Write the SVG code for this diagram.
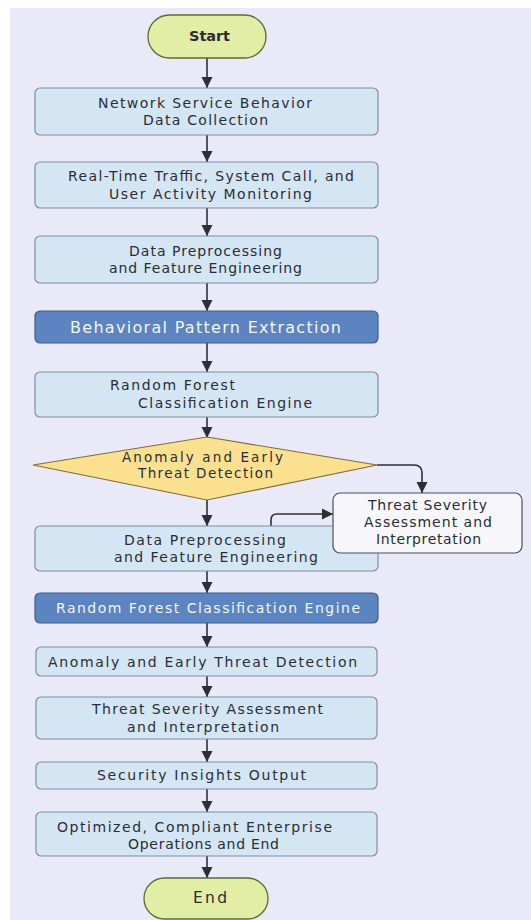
<svg xmlns="http://www.w3.org/2000/svg" width="531" height="920" viewBox="0 0 531 920">
<style>
.t{font-family:"DejaVu Sans","Open Sans","Liberation Sans",sans-serif;font-size:14px;fill:#2a2d36;text-anchor:middle}
.s{text-anchor:start}
.w{fill:#f2f5fb}
.b{font-weight:bold;font-size:14.5px}
.lb{fill:#d4e5f3;stroke:#7d8ea8;stroke-width:1.2}
.db{fill:#5c84c0;stroke:#3d5d92;stroke-width:1.2}
.term{fill:#e2eea5;stroke:#5e6b33;stroke-width:1.3}
.dia{fill:#fbe090;stroke:#7f6f3a;stroke-width:1.2}
.side{fill:#f7f7fb;stroke:#4a4f5a;stroke-width:1.2}
.c{fill:none;stroke:#2d2e36;stroke-width:1.6}
</style>
<defs>
<marker id="ah" markerUnits="userSpaceOnUse" markerWidth="12" markerHeight="12" viewBox="0 0 12 12" refX="11" refY="6" orient="auto">
<path d="M0,0.5 L11,6 L0,11.5 Z" fill="#2d2e36"/>
</marker>
</defs>
<rect x="0" y="0" width="531" height="920" fill="#ffffff"/>
<rect x="10" y="8" width="521" height="912" fill="#e9e9f7"/>

<g id="connectors">
<line class="c" x1="207" y1="58" x2="207" y2="88" marker-end="url(#ah)"/>
<line class="c" x1="207" y1="135" x2="207" y2="162" marker-end="url(#ah)"/>
<line class="c" x1="207" y1="208" x2="207" y2="236" marker-end="url(#ah)"/>
<line class="c" x1="207" y1="283" x2="207" y2="311" marker-end="url(#ah)"/>
<line class="c" x1="207" y1="343" x2="207" y2="372" marker-end="url(#ah)"/>
<line class="c" x1="207" y1="417" x2="207" y2="438" marker-end="url(#ah)"/>
<line class="c" x1="207" y1="500" x2="207" y2="526" marker-end="url(#ah)"/>
<path class="c" d="M377,465 H414 Q422,465 422,473 V493" marker-end="url(#ah)"/>
<path class="c" d="M271,526 V520 Q271,514 277,514 H333" marker-end="url(#ah)"/>
<line class="c" x1="207" y1="571" x2="207" y2="593" marker-end="url(#ah)"/>
<line class="c" x1="207" y1="623" x2="207" y2="647" marker-end="url(#ah)"/>
<line class="c" x1="207" y1="676" x2="207" y2="697" marker-end="url(#ah)"/>
<line class="c" x1="207" y1="739" x2="207" y2="762" marker-end="url(#ah)"/>
<line class="c" x1="207" y1="789" x2="207" y2="812" marker-end="url(#ah)"/>
<line class="c" x1="207" y1="856" x2="207" y2="878" marker-end="url(#ah)"/>
</g>

<g id="start">
<rect class="term" x="148" y="15" width="118" height="43" rx="21.5"/>
<text class="t b" x="209.5" y="41" textLength="41" lengthAdjust="spacing">Start</text>
</g>

<g id="n1">
<rect class="lb" x="35" y="88" width="343" height="47" rx="5"/>
<text class="t" x="205" y="107.5" textLength="214" lengthAdjust="spacing">Network Service Behavior</text>
<text class="t" x="205.5" y="124.5" textLength="125" lengthAdjust="spacing">Data Collection</text>
</g>

<g id="n2">
<rect class="lb" x="35" y="162" width="343" height="46" rx="5"/>
<text class="t" x="211" y="180.5" textLength="286" lengthAdjust="spacing">Real-Time Traffic, System Call, and</text>
<text class="t" x="210.5" y="198.5" textLength="203" lengthAdjust="spacing">User Activity Monitoring</text>
</g>

<g id="n3">
<rect class="lb" x="35" y="236" width="343" height="47" rx="5"/>
<text class="t" x="205.5" y="255.5" textLength="153" lengthAdjust="spacing">Data Preprocessing</text>
<text class="t" x="205.5" y="272.5" textLength="193" lengthAdjust="spacing">and Feature Engineering</text>
</g>

<g id="n4">
<rect class="db" x="35" y="311" width="343" height="32" rx="5"/>
<text class="t w" x="205.5" y="332.5" style="font-size:16px" textLength="271" lengthAdjust="spacing">Behavioral Pattern Extraction</text>
</g>

<g id="n5">
<rect class="lb" x="35" y="372" width="343" height="45" rx="5"/>
<text class="t s" x="110" y="389.5" textLength="125" lengthAdjust="spacing">Random Forest</text>
<text class="t s" x="138" y="407.5" textLength="174" lengthAdjust="spacing">Classification Engine</text>
</g>

<g id="decision">
<polygon class="dia" points="207,437 377,465 207,500 33,465"/>
<text class="t" x="202.5" y="461.5" style="font-size:13.5px" textLength="161" lengthAdjust="spacing">Anomaly and Early</text>
<text class="t" x="205.5" y="477.5" style="font-size:13.5px" textLength="135" lengthAdjust="spacing">Threat Detection</text>
</g>

<g id="n6">
<rect class="lb" x="35" y="526" width="343" height="45" rx="5"/>
<text class="t" x="205" y="544.5" textLength="162" lengthAdjust="spacing">Data Preprocessing</text>
<text class="t" x="216" y="561.5" textLength="204" lengthAdjust="spacing">and Feature Engineering</text>
</g>

<g id="side">
<rect class="side" x="333" y="493" width="189" height="60" rx="7"/>
<text class="t" x="427.5" y="509.5" textLength="119" lengthAdjust="spacing">Threat Severity</text>
<text class="t" x="428" y="526.5" textLength="128" lengthAdjust="spacing">Assessment and</text>
<text class="t" x="428.5" y="543.5" textLength="105" lengthAdjust="spacing">Interpretation</text>
</g>

<g id="n7">
<rect class="db" x="35" y="593" width="343" height="30" rx="5"/>
<text class="t w" x="208" y="612.5" textLength="304" lengthAdjust="spacing">Random Forest Classification Engine</text>
</g>

<g id="n8">
<rect class="lb" x="36" y="647" width="341" height="29" rx="5"/>
<text class="t" x="202.5" y="666.5" textLength="309" lengthAdjust="spacing">Anomaly and Early Threat Detection</text>
</g>

<g id="n9">
<rect class="lb" x="36" y="697" width="341" height="42" rx="5"/>
<text class="t" x="207.5" y="713.5" textLength="231" lengthAdjust="spacing">Threat Severity Assessment</text>
<text class="t" x="203" y="731.5" textLength="152" lengthAdjust="spacing">and Interpretation</text>
</g>

<g id="n10">
<rect class="lb" x="36" y="762" width="341" height="27" rx="5"/>
<text class="t" x="201.5" y="779.5" textLength="209" lengthAdjust="spacing">Security Insights Output</text>
</g>

<g id="n11">
<rect class="lb" x="36" y="812" width="341" height="44" rx="5"/>
<text class="t" x="194.5" y="831.5" textLength="275" lengthAdjust="spacing">Optimized, Compliant Enterprise</text>
<text class="t" x="203.5" y="848.5" textLength="151" lengthAdjust="spacing">Operations and End</text>
</g>

<g id="end">
<rect class="term" x="144" y="878" width="124" height="41" rx="20.5"/>
<text class="t" x="210" y="902.5" style="font-size:15.5px" textLength="34" lengthAdjust="spacing">End</text>
</g>
</svg>
